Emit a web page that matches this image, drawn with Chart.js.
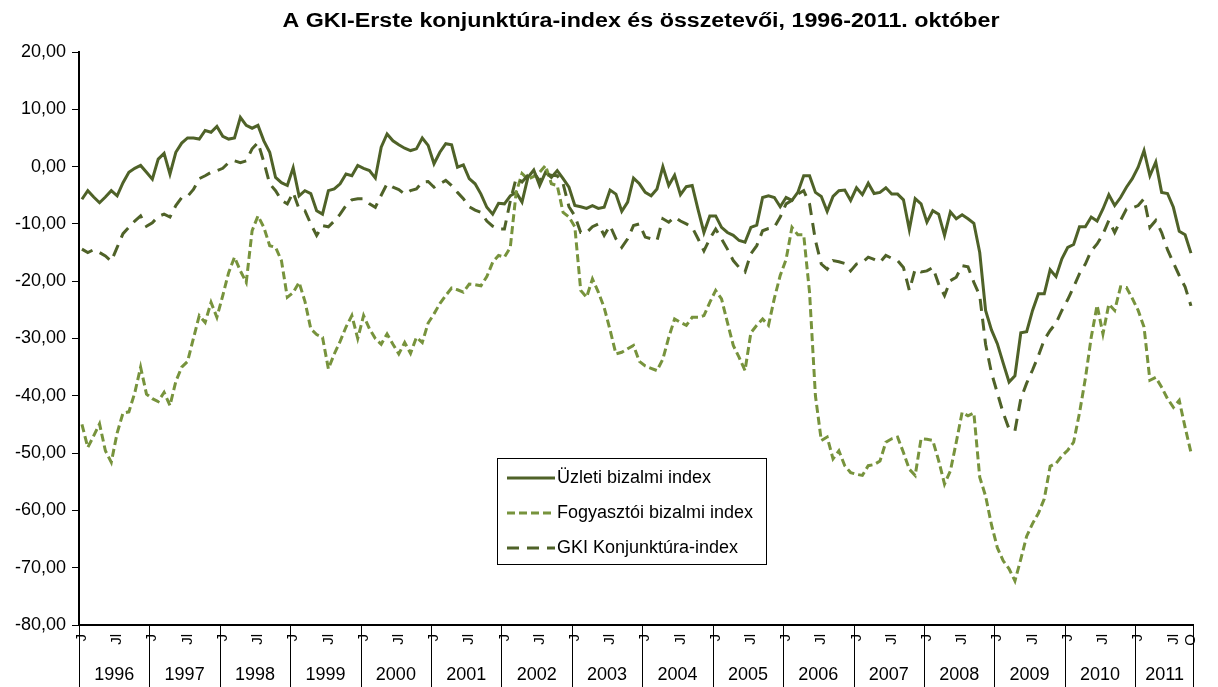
<!DOCTYPE html>
<html lang="hu">
<head>
<meta charset="UTF-8">
<title>A GKI-Erste konjunktúra-index és összetevői</title>
<script src="https://cdn.jsdelivr.net/npm/chart.js@4"></script>
<style>
  body { margin: 0; background: #fff; }
  .chart-box { width: 1218px; height: 687px; position: relative; }
</style>
</head>
<body>
<div class="chart-box"><canvas id="gki-chart"></canvas></div>
<script>
// évek és hónapok (1996. január - 2011. október)
const evek = ['1996','1997','1998','1999','2000','2001','2002','2003','2004','2005','2006','2007','2008','2009','2010','2011'];
const utolsoHonap = 10;
const honapJelek = { 1: 'J', 7: 'Jl' };
const zaroJel = 'O';
const yTicks = [20, 10, 0, -10, -20, -30, -40, -50, -60, -70, -80];

const uzleti = [
  -5.7, -4.2, -5.3, -6.3, -5.3, -4.2, -5.1, -2.8, -1.0, -0.3, 0.2, -1.0,
  -2.2, 1.3, 2.3, -1.3, 2.5, 4.1, 5.0, 5.0, 4.8, 6.3, 6.0, 7.0,
  5.3, 4.8, 5.0, 8.6, 7.2, 6.7, 7.2, 4.5, 2.5, -1.9, -2.8, -3.3,
  -0.2, -5.1, -4.2, -4.7, -7.7, -8.3, -4.2, -3.9, -3.0, -1.3, -1.6, 0.2,
  -0.3, -0.7, -2.0, 3.4, 5.7, 4.5, 3.8, 3.2, 2.8, 3.1, 5.0, 3.7,
  0.5, 2.5, 4.0, 3.8, -0.1, 0.3, -2.1, -3.0, -4.8, -7.1, -8.3, -6.4,
  -6.5, -5.1, -4.5, -6.2, -1.9, -0.6, -3.3, -1.0, -1.9, -0.7, -2.1, -3.6,
  -6.8, -7.0, -7.3, -6.8, -7.3, -7.1, -4.1, -4.8, -7.8, -6.2, -2.0, -3.0,
  -4.5, -5.1, -3.9, 0.0, -3.3, -1.5, -4.9, -3.5, -3.3, -7.5, -11.5, -8.6,
  -8.6, -10.6, -11.5, -12.0, -12.9, -13.2, -10.6, -10.2, -5.4, -5.1, -5.4, -7.0,
  -5.4, -5.9, -4.5, -1.6, -1.6, -4.5, -5.2, -7.8, -5.2, -4.2, -4.1, -5.9,
  -3.7, -4.9, -2.9, -4.7, -4.5, -3.7, -4.8, -4.8, -5.8, -11.0, -5.6, -6.5,
  -9.7, -7.7, -8.3, -12.0, -7.9, -9.1, -8.4, -9.1, -9.9, -15.0, -25.1, -28.5,
  -30.9, -34.3, -37.6, -36.5, -29.0, -28.8, -25.1, -22.2, -22.2, -18.0, -19.2, -16.1,
  -14.1, -13.6, -10.5, -10.5, -8.8, -9.5, -7.4, -4.9, -6.8, -5.4, -3.6, -2.1,
  -0.1, 2.8, -1.6, 0.8, -4.5, -4.7, -7.1, -11.3, -11.9, -15.1
];

const fogyasztoi = [
  -45.0, -49.0, -47.0, -44.9, -49.6, -51.6, -46.5, -43.0, -42.8, -39.5, -35.0, -39.7,
  -40.5, -41.0, -39.4, -41.7, -37.5, -35.0, -34.0, -30.0, -26.0, -27.2, -23.7, -26.3,
  -22.5, -18.5, -15.8, -18.2, -20.2, -11.2, -8.6, -10.6, -13.8, -14.1, -16.4, -22.8,
  -22.0, -20.2, -23.5, -28.3, -29.3, -29.8, -35.3, -32.7, -30.5, -28.0, -26.0, -30.0,
  -26.0, -28.3, -30.0, -31.0, -29.2, -31.0, -32.7, -30.7, -32.6, -29.8, -30.7, -27.3,
  -25.7, -23.9, -22.5, -21.2, -21.5, -21.9, -20.5, -20.6, -20.8, -19.2, -16.7, -15.5,
  -15.8, -14.1, -4.5, -1.2, -2.2, -1.7, -1.0, 0.2, -3.0, -3.3, -8.0, -8.8,
  -10.5, -21.6, -22.8, -19.6, -21.9, -24.6, -28.5, -32.7, -32.4, -31.8, -31.2, -34.0,
  -34.8, -35.2, -35.6, -33.6, -29.8, -26.6, -27.2, -27.7, -26.3, -26.3, -26.0, -23.7,
  -21.6, -23.1, -27.2, -31.2, -33.3, -35.6, -29.0, -27.7, -26.6, -27.7, -23.0, -19.0,
  -16.2, -10.6, -11.9, -11.9, -22.0, -40.0, -47.8, -47.2, -51.0, -49.6, -52.2, -53.4,
  -53.7, -53.9, -52.2, -52.0, -51.4, -48.1, -47.5, -47.2, -49.9, -52.8, -53.9, -47.5,
  -47.6, -47.8, -51.3, -55.4, -53.1, -48.1, -42.9, -43.5, -43.0, -54.2, -57.5, -62.5,
  -66.5, -68.8, -70.2, -72.3, -68.5, -64.5, -62.3, -60.5, -58.0, -52.3, -51.8, -50.5,
  -49.5, -48.1, -43.0, -37.0, -29.8, -24.2, -29.2, -24.0, -25.1, -21.0, -21.1, -23.0,
  -25.1, -28.0, -37.3, -36.8, -38.5, -40.5, -42.0, -40.8, -45.5, -49.9
];

const gki = [
  -14.4, -15.0, -14.5, -15.0, -15.6, -16.5, -14.1, -11.7, -10.6, -9.5, -8.6, -10.4,
  -9.8, -8.7, -8.3, -8.8, -6.8, -5.4, -5.2, -4.0, -2.1, -1.6, -1.0, -0.7,
  -0.3, 0.7, 1.0, 0.7, 1.0, 3.1, 4.2, 0.8, -3.0, -4.2, -5.9, -6.5,
  -4.5, -7.4, -7.7, -10.0, -12.0, -10.3, -10.5, -9.5, -8.3, -6.8, -5.8, -5.6,
  -5.6, -6.5, -7.1, -5.0, -3.0, -3.6, -4.0, -4.8, -4.2, -3.9, -2.7, -2.6,
  -3.6, -3.0, -2.4, -3.3, -4.5, -5.6, -7.0, -7.6, -8.0, -9.5, -10.4, -10.9,
  -10.9, -6.0, -2.0, -2.7, -1.5, -1.0, -2.5, -1.3, -1.5, -1.6, -3.0, -7.0,
  -8.6, -11.5, -11.5, -10.5, -10.0, -12.0, -10.3, -12.6, -14.1, -12.6, -10.3, -10.0,
  -12.3, -12.6, -12.9, -9.1, -9.7, -8.8, -9.5, -10.0, -10.6, -12.6, -14.7, -12.6,
  -10.9, -12.6, -14.4, -16.4, -17.6, -18.4, -15.2, -13.8, -11.2, -10.8, -10.6, -8.8,
  -6.5, -5.9, -4.8, -4.2, -6.5, -12.9, -17.0, -17.9, -16.4, -16.6, -16.9, -18.2,
  -17.0, -16.7, -15.8, -16.2, -16.7, -15.5, -16.0, -16.4, -17.6, -21.6, -17.9, -18.4,
  -18.2, -17.6, -20.5, -22.5, -19.9, -19.3, -17.3, -17.5, -20.2, -22.5, -31.0, -36.0,
  -39.5, -43.0, -45.8, -46.1, -40.5, -37.8, -35.5, -33.0, -30.2, -28.6, -27.3, -25.1,
  -23.2, -21.0, -18.7, -17.0, -14.7, -13.5, -11.8, -9.4, -11.5, -9.4, -7.4, -7.2,
  -6.8, -5.6, -10.6, -9.4, -11.5, -14.5, -16.8, -19.0, -21.0, -24.3
];

// hónap-kategóriák
const honapok = [];
evek.forEach((ev, k) => {
  const db = k === evek.length - 1 ? utolsoHonap : 12;
  for (let m = 1; m <= db; m++) honapok.push(ev + '.' + String(m).padStart(2, '0'));
});

const betu = '"Liberation Sans", Arial, sans-serif';
const sotet = '#4F6228';
const vilagos = '#77933C';
const cim = 'A GKI-Erste konjunktúra-index és összetevői, 1996-2011. október';

Chart.defaults.font.family = betu;
Chart.defaults.font.size = 18;
Chart.defaults.color = '#000';

// cím, évsor és jelmagyarázat
const kiegeszitok = {
  id: 'kiegeszitok',
  afterDraw(chart) {
    const ctx = chart.ctx;
    const area = chart.chartArea;
    const x = chart.scales.x;
    const w = x.getPixelForValue(1) - x.getPixelForValue(0);
    const bal = i => x.getPixelForValue(i) - w / 2;

    ctx.save();
    // cím (kicsit szélesebbre nyújtva, mint az eredetin)
    ctx.fillStyle = '#000';
    ctx.font = 'bold 20px ' + betu;
    ctx.textAlign = 'center';
    ctx.textBaseline = 'alphabetic';
    const cimSzel = ctx.measureText(cim).width;
    ctx.save();
    ctx.translate(641, 27);
    ctx.scale(717 / cimSzel, 1);
    ctx.fillText(cim, 0, 0);
    ctx.restore();

    // évek alatti sor
    ctx.strokeStyle = '#000';
    ctx.lineWidth = 1;
    ctx.font = '18px ' + betu;
    ctx.textBaseline = 'middle';
    let kezdo = 0;
    evek.forEach((ev, k) => {
      const db = k === evek.length - 1 ? utolsoHonap : 12;
      const x0 = bal(kezdo), x1 = bal(kezdo + db);
      ctx.beginPath();
      ctx.moveTo(Math.round(x0) + 0.5, area.bottom);
      ctx.lineTo(Math.round(x0) + 0.5, chart.height);
      ctx.stroke();
      ctx.fillText(ev, (x0 + x1) / 2, 675);
      kezdo += db;
    });
    const xv = Math.round(bal(kezdo)) - 0.5;
    ctx.beginPath();
    ctx.moveTo(xv, area.bottom);
    ctx.lineTo(xv, chart.height);
    ctx.stroke();

    // jelmagyarázat
    const lx = 497, ly = 458, lw = 269, lh = 106;
    ctx.fillStyle = '#fff';
    ctx.fillRect(lx, ly, lw, lh);
    ctx.strokeStyle = '#000';
    ctx.strokeRect(lx + 0.5, ly + 0.5, lw, lh);
    const sorok = [478, 513, 548];
    chart.data.datasets.forEach((ds, i) => {
      const y = sorok[i];
      ctx.strokeStyle = ds.borderColor;
      ctx.lineWidth = ds.borderWidth;
      ctx.setLineDash(ds.borderDash || []);
      ctx.beginPath();
      ctx.moveTo(507, y);
      ctx.lineTo(555, y);
      ctx.stroke();
      ctx.setLineDash([]);
      ctx.fillStyle = '#000';
      ctx.textAlign = 'left';
      ctx.fillText(ds.label, 557, y);
    });
    ctx.restore();
  }
};

new Chart(document.getElementById('gki-chart'), {
  type: 'line',
  data: {
    labels: honapok,
    datasets: [
      { label: 'Üzleti bizalmi index', data: uzleti, borderColor: sotet, borderWidth: 3, pointRadius: 0, order: 2 },
      { label: 'Fogyasztói bizalmi index', data: fogyasztoi, borderColor: vilagos, borderWidth: 3, borderDash: [8, 4], pointRadius: 0, order: 1 },
      { label: 'GKI Konjunktúra-index', data: gki, borderColor: sotet, borderWidth: 3, borderDash: [12, 8], pointRadius: 0, order: 0 }
    ]
  },
  options: {
    responsive: true,
    maintainAspectRatio: false,
    animation: false,
    layout: { padding: { top: 52, right: 10, left: 0, bottom: 0 } },
    plugins: { legend: { display: false }, tooltip: { enabled: false } },
    scales: {
      x: {
        type: 'category',
        offset: true,
        grid: { display: false, drawTicks: false },
        border: { display: true, color: '#000', width: 2 },
        ticks: {
          autoSkip: false,
          minRotation: 90,
          maxRotation: 90,
          padding: 9,
          font: { size: 15 },
          callback: (val, idx) => {
            if (idx === honapok.length - 1) return zaroJel;
            return honapJelek[Number(honapok[idx].slice(5))] || '';
          }
        },
        afterFit: scale => { scale.height = 62; }
      },
      y: {
        min: -80,
        max: 20,
        afterBuildTicks: scale => { scale.ticks = yTicks.map(v => ({ value: v })); },
        grid: { drawOnChartArea: false, drawTicks: true, tickLength: 7, color: '#000' },
        border: { display: true, color: '#000', width: 2 },
        ticks: {
          padding: 6,
          callback: v => v.toFixed(2).replace('.', ',')
        },
        afterFit: scale => { scale.width = 79; }
      }
    }
  },
  plugins: [kiegeszitok]
});
</script>
</body>
</html>
